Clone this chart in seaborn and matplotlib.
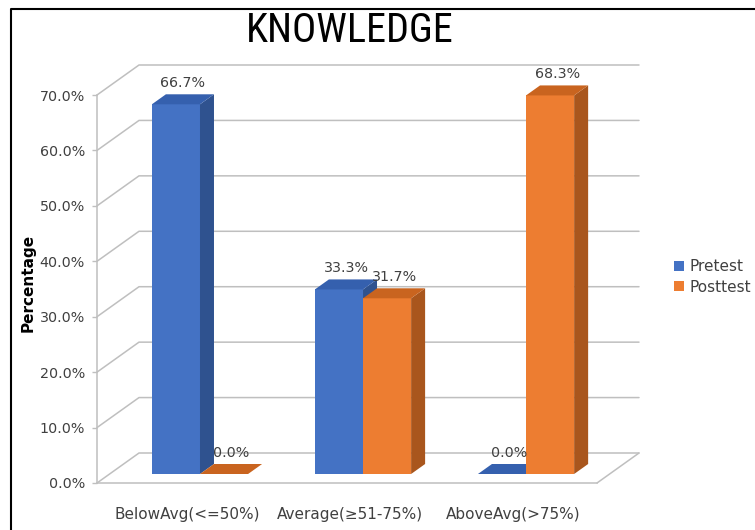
import matplotlib
matplotlib.use("Agg")
import numpy as np
import pandas as pd
import seaborn as sns
import matplotlib.pyplot as plt
from matplotlib.patches import Polygon, Patch
from matplotlib.lines import Line2D
from matplotlib.transforms import ScaledTranslation, IdentityTransform
from matplotlib.ticker import FuncFormatter
from matplotlib import font_manager

# ---------------- data ----------------
categories = ["BelowAvg(<=50%)", "Average(\u226551-75%)", "AboveAvg(>75%)"]
series = ["Pretest", "Posttest"]
pretest = [66.7, 33.3, 0.0]
posttest = [0.0, 31.7, 68.3]
y_ticks = [0, 10, 20, 30, 40, 50, 60, 70]

front_colors = {"Pretest": "#4472C4", "Posttest": "#ED7D31"}
side_colors = {"Pretest": "#2F528F", "Posttest": "#A9561D"}
top_colors = {"Pretest": "#3560AE", "Posttest": "#C9641F"}

# ---------------- style ----------------
sns.set_theme(style="white")
plt.rcParams['font.family'] = ['DejaVu Sans']
avail = {f.name for f in font_manager.fontManager.ttflist}
title_family = next((f for f in ["Liberation Sans Narrow", "DejaVu Sans Condensed", "Roboto Condensed"] if f in avail), "DejaVu Sans")

DPI = 100
W, H = 755, 530
fig = plt.figure(figsize=(W / DPI, H / DPI), dpi=DPI)
fig.patch.set_facecolor("white")
ax = fig.add_axes([97 / W, 47 / H, 500 / W, 388 / H])
ax.patch.set_alpha(0)

df = pd.DataFrame({
    "Category": categories * len(series),
    "Series": [s for s in series for _ in categories],
    "Value": pretest + posttest,
})

sns.barplot(data=df, x="Category", y="Value", hue="Series", order=categories,
            hue_order=series, palette=front_colors, width=0.59, saturation=1,
            ax=ax, legend=False, edgecolor="none", linewidth=0)

ax.set_xlim(-0.552, 2.515)
ax.set_ylim(0, 70)
ax.set_yticks(y_ticks)
ax.yaxis.set_major_formatter(FuncFormatter(lambda v, p: f"{v:.1f}%"))
ax.set_xlabel("")

# pseudo-3D offsets in pixels (display coords, y up)
FRONT = (13, 9)
BACK = (27, 19)
WALL = (42, 30)


def to_px(x, y, off):
    px, py = ax.transData.transform((x, y))
    return (px + off[0], py + off[1])


grid_c = "#BFBFBF"
x0, x1 = ax.get_xlim()
for yt in y_ticks:
    pf = to_px(x0, yt, (0, 0))
    pbl = to_px(x0, yt, WALL)
    pbr = to_px(x1, yt, WALL)
    ln = Line2D([pf[0], pbl[0], pbr[0]], [pf[1], pbl[1], pbr[1]],
                color=grid_c, lw=1.1, transform=IdentityTransform(), zorder=1)
    ax.add_artist(ln)
    ln.set_clip_on(False)
# floor right edge
pfr = to_px(x1, 0, (0, 0))
pbr = to_px(x1, 0, WALL)
ln = Line2D([pfr[0], pbr[0]], [pfr[1], pbr[1]], color=grid_c, lw=1.1,
            transform=IdentityTransform(), zorder=1)
ax.add_artist(ln)
ln.set_clip_on(False)

# bars: front faces from seaborn, shifted; side & top faces from bar geometry
front_shift = ax.transData + ScaledTranslation(FRONT[0] / DPI, FRONT[1] / DPI, fig.dpi_scale_trans)
for k, (cont, name) in enumerate(zip(ax.containers, series)):
    base = 3 + k * 0.5
    for rect in cont:
        x, w, h = rect.get_x(), rect.get_width(), rect.get_height()
        rect.set_transform(front_shift)
        rect.set_clip_on(False)
        rect.set_zorder(base)
        side = [to_px(x + w, 0, FRONT), to_px(x + w, 0, BACK),
                to_px(x + w, h, BACK), to_px(x + w, h, FRONT)]
        top = [to_px(x, h, FRONT), to_px(x + w, h, FRONT),
               to_px(x + w, h, BACK), to_px(x, h, BACK)]
        for verts, col in ((side, side_colors[name]), (top, top_colors[name])):
            pg = Polygon(verts, closed=True, facecolor=col, edgecolor="none",
                         transform=IdentityTransform(), zorder=base + 0.1)
            ax.add_artist(pg)
            pg.set_clip_on(False)
        lab_tr = ax.transData + ScaledTranslation((FRONT[0] + BACK[0]) / 2 / DPI,
                                                  (BACK[1] + 11) / DPI, fig.dpi_scale_trans)
        t = ax.text(x + w / 2, h, f"{h:.1f}%", transform=lab_tr, ha="center", va="center",
                    fontsize=10.3, color="#404040", zorder=6)
        t.set_clip_on(False)

# axes styling
for s in ["top", "right"]:
    ax.spines[s].set_visible(False)
for s in ["left", "bottom"]:
    ax.spines[s].set_color(grid_c)
    ax.spines[s].set_linewidth(1.1)
ax.tick_params(axis="y", left=True, length=3.6, width=1, color=grid_c,
               labelsize=10.3, labelcolor="#404040", pad=5)
ax.tick_params(axis="x", bottom=False, length=0, labelsize=11,
               labelcolor="#404040", pad=17)

ax.set_ylabel("Percentage", fontsize=11, fontweight="bold", color="black")
ax.yaxis.set_label_coords((28 - 97) / 500, (483 - 283) / 388)
ax.yaxis.label.set_va("center")

fig.text(350 / W, 1 - 30 / H, "KNOWLEDGE", ha="center", va="center",
         fontsize=29, family=title_family, color="black")

handles = [Patch(facecolor=front_colors[s], edgecolor="none", label=s) for s in series]
fig.legend(handles=handles, loc="center left", bbox_to_anchor=(674 / W, 1 - 277 / H),
           frameon=False, fontsize=11, handlelength=0.65, handleheight=0.65,
           handletextpad=0.35, labelspacing=0.35, borderpad=0, borderaxespad=0,
           labelcolor="#404040")

# outer border (left and top)
fig.add_artist(Line2D([10.5 / W, 10.5 / W, 1], [0, 1 - 8.5 / H, 1 - 8.5 / H],
                      transform=fig.transFigure, color="black", lw=1.5))

fig.savefig("out.png", dpi=DPI)
